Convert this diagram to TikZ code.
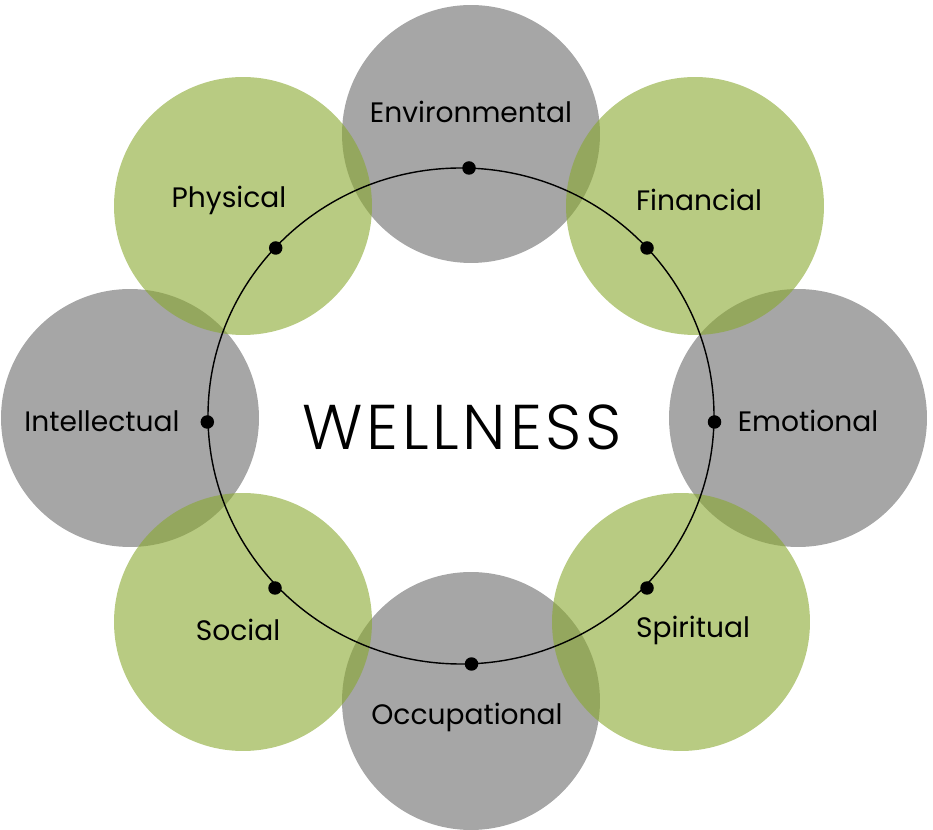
\documentclass[tikz,border=0pt]{standalone}
\usepackage{fontspec}
\setmainfont{Poppins}
\newfontfamily\thinfont{Poppins Light}[LetterSpace=6]
\definecolor{ringgray}{RGB}{166,166,166}
\definecolor{leafgreen}{RGB}{137,168,47}
\tikzset{
  graydisc/.style={circle, fill=ringgray, minimum size=5.16cm, inner sep=0pt},
  greendisc/.style={circle, fill=leafgreen, fill opacity=0.6, minimum size=5.16cm, inner sep=0pt},
  ringdot/.style={circle, fill=black, minimum size=0.27cm, inner sep=0pt},
  label/.style={font=\fontsize{16}{18}\selectfont, text=black}
}
\begin{document}
\begin{tikzpicture}[x=0.02cm,y=0.02cm]
\useasboundingbox (0,0) rectangle (933,-830);
% gray circles first
\node[graydisc] (env) at (471,-134) {};
\node[graydisc] (emo) at (798,-418) {};
\node[graydisc] (occ) at (471,-701) {};
\node[graydisc] (int) at (130,-418) {};
% green circles on top
\node[greendisc] (fin) at (695,-206) {};
\node[greendisc] (spi) at (681,-622) {};
\node[greendisc] (soc) at (243,-622) {};
\node[greendisc] (phy) at (243,-206) {};
% ring
\coordinate (ringc) at (461,-416);
\draw[black, line width=0.8pt] (ringc) ellipse [x radius=253, y radius=248];
\node[ringdot] (dtop) at (469,-168) {};
\node[ringdot] (dtr) at (647,-248) {};
\node[ringdot] (dr) at (714.5,-422) {};
\node[ringdot] (dbr) at (647,-588) {};
\node[ringdot] (dbot) at (471.5,-664) {};
\node[ringdot] (dbl) at (275,-588) {};
\node[ringdot] (dl) at (207.3,-422) {};
\node[ringdot] (dtl) at (275.7,-248) {};
% texts
\node[label] (tenv) at (471,-112) {Environmental};
\node[label] (tfin) at (699,-200) {Financial};
\node[label] (temo) at (808,-421) {Emotional};
\node[label] (tspi) at (693,-630) {Spiritual};
\node[label] (tocc) at (467,-717) {Occupational};
\node[label] (tsoc) at (238,-630) {Social};
\node[label] (tint) at (102,-421) {Intellectual};
\node[label] (tphy) at (229,-200) {Physical};
\node[font=\thinfont\fontsize{36}{40}\selectfont] (well) at (462,-427) {WELLNESS};
\end{tikzpicture}
\end{document}
